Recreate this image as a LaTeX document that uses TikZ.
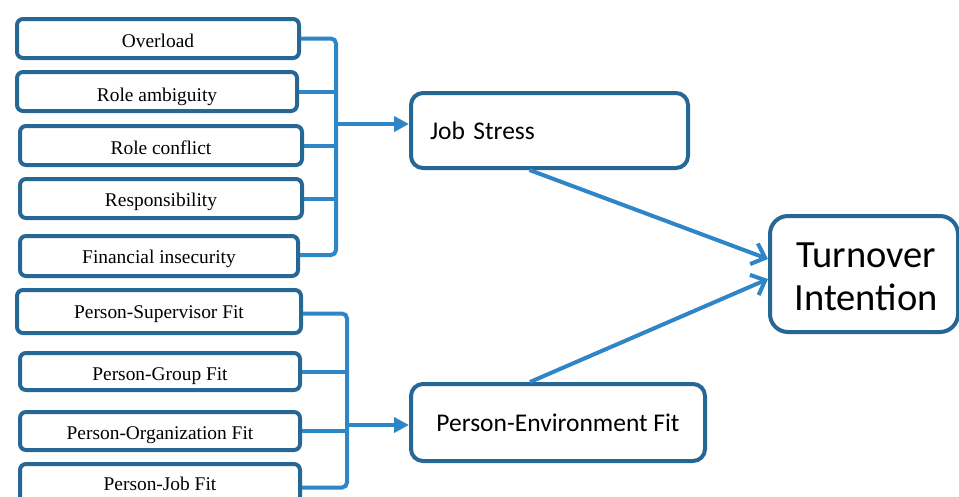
\documentclass[tikz,border=0pt]{standalone}
\usepackage{fontspec}
\setmainfont{Liberation Serif}
\newfontfamily\calfont{Carlito}
\usetikzlibrary{arrows.meta}
\definecolor{boxblue}{RGB}{38,103,150}
\definecolor{linkblue}{RGB}{46,134,199}
\tikzset{
  lb/.style={draw=boxblue, line width=4pt, rounded corners=6pt, anchor=north west,
    inner xsep=0pt, inner ysep=0pt, fill=white,
    font=\fontsize{19.4}{23}\selectfont},
  rb/.style={draw=boxblue, line width=4pt, rounded corners=12pt, anchor=north west,
    inner ysep=0pt, fill=white, font=\calfont\fontsize{25.5}{30}\selectfont},
  conn/.style={draw=linkblue, line width=4pt},
  feed/.style={conn, -{Triangle[length=15pt,width=15pt]}},
  into/.style={conn, -{Straight Barb[length=12pt,width=22pt]}}
}
\begin{document}
\begin{tikzpicture}[x=1pt,y=-1pt]
\useasboundingbox (0,0) rectangle (959,496);
\clip (0,0) rectangle (959,496);
% left group 1
\node[lb, minimum width=282pt, text height=28pt, text depth=11pt] (ov) at (15,17) {Overload};
\node[lb, minimum width=280pt, text height=29pt, text depth=10pt] (ra) at (15,70) {Role ambiguity};
\node[lb, minimum width=282pt, text height=28pt, text depth=11pt] (rc) at (18,124) {Role conflict};
\node[lb, minimum width=282pt, text height=27pt, text depth=12pt] (rs) at (18,177) {Responsibility};
\node[lb, minimum width=278pt, text height=27pt, text depth=13pt] (fi) at (18,234) {Financial insecurity};
% left group 2
\node[lb, minimum width=284pt, text height=28pt, text depth=15pt] (ps) at (15,288) {Person-Supervisor Fit};
\node[lb, minimum width=280pt, text height=27pt, text depth=10pt] (pg) at (18,351) {Person-Group Fit};
\node[lb, minimum width=280pt, text height=27pt, text depth=11pt] (po) at (18,410) {Person-Organization Fit};
\node[lb, minimum width=280pt, text height=26pt, text depth=15pt] (pj) at (18,462) {Person-Job Fit};
% right boxes
\node[rb, minimum width=277pt, minimum height=75pt, inner xsep=19pt, text width=239pt, align=left] (js) at (409,91) {Job Stress};
\node[rb, minimum width=294pt, minimum height=77pt] (pe) at (409,382) {Person-Environment Fit};
\node[rb, rounded corners=18pt, minimum width=188pt, minimum height=116pt] (ti) at (768,214) {};
\node[align=center, inner sep=0pt, font=\calfont\fontsize{38.5}{43}\selectfont]
  (tit) at ([xshift=2pt,yshift=-3pt]ti.center) {Turnover\\Intention};
% bracket 1
\coordinate (s1) at (336,124);
\draw[conn, rounded corners=5pt] (ov.east) -| (s1) |- ([yshift=1pt]fi.east);
\draw[conn] (ra.east) -- (ra.east -| s1);
\draw[conn] (rc.east) -- (rc.east -| s1);
\draw[conn] (rs.east) -- (rs.east -| s1);
\draw[feed] (s1) -- (s1 -| js.west);
% bracket 2
\coordinate (s2) at (347,425);
\draw[conn, rounded corners=5pt] ([yshift=-2pt]ps.east) -| (s2) |- ([yshift=-3pt]pj.east);
\draw[conn] (pg.east) -- (pg.east -| s2);
\draw[conn] (po.east) -- (po.east -| s2);
\draw[feed] (s2) -- (s2 -| pe.west);
% to turnover
\draw[into] ([xshift=-20pt]js.south) -- ([yshift=15pt]ti.west);
\draw[into] ([xshift=-28pt]pe.north) -- ([yshift=-5pt]ti.west);
\end{tikzpicture}
\end{document}
